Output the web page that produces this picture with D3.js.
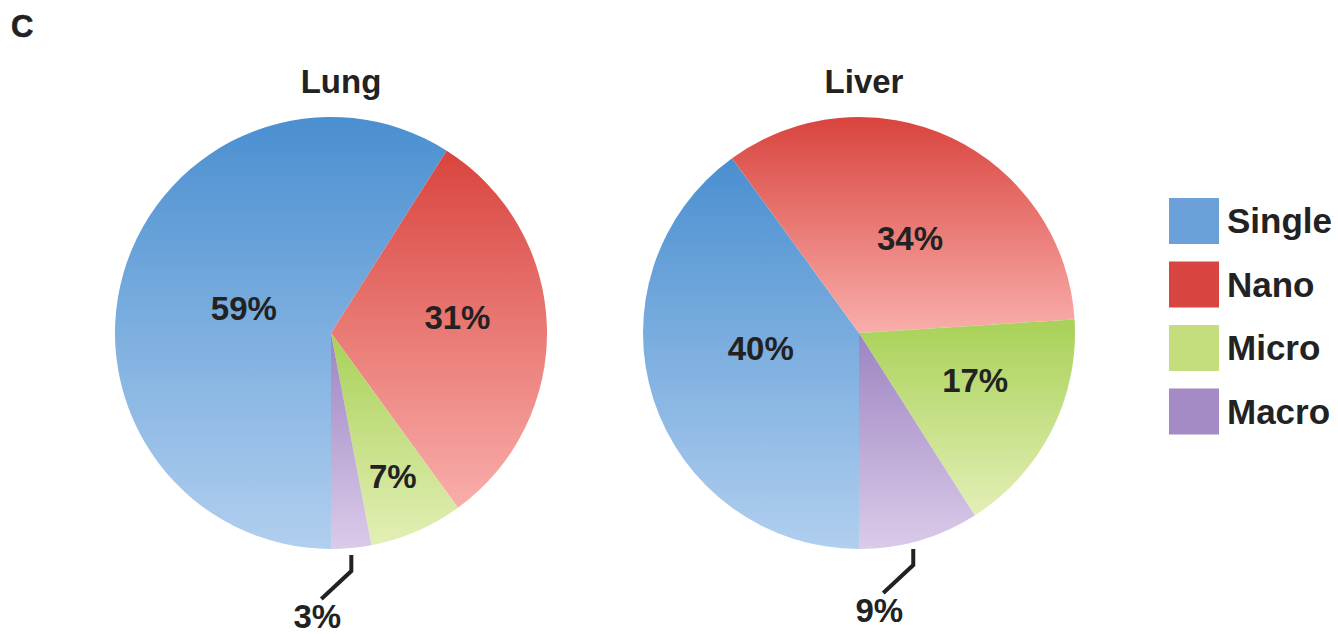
<!DOCTYPE html>
<html>
<head>
<meta charset="utf-8">
<script src="https://cdn.jsdelivr.net/npm/d3@7"></script>
<style>
  html, body { margin: 0; padding: 0; background: #fff; }
  svg { display: block; }
  text { font-family: "Liberation Sans", Arial, sans-serif; font-weight: bold; fill: #222; }
</style>
</head>
<body>
<svg id="chart" width="1338" height="634"></svg>
<script>
// ---- data ----
const categories = ["Single", "Nano", "Micro", "Macro"];
const pieTitles = ["Lung", "Liver"];
const lungValues = [59, 31, 7, 3];
const liverValues = [40, 34, 17, 9];
const panelLabel = "C";

// ---- style ----
const gradTop = ["#4a8fd0", "#d9443e", "#a8d157", "#9d84c1"];
const gradBottom = ["#b1cfef", "#f9aeab", "#e3efb6", "#dacbe9"];
const legendColors = ["#6ca0d9", "#d8443f", "#c4de7d", "#a58bc5"];

const svg = d3.select("#chart");
const defs = svg.append("defs");
categories.forEach((c, i) => {
  const g = defs.append("linearGradient").attr("id", "grad" + i)
    .attr("x1", 0).attr("y1", 0).attr("x2", 0).attr("y2", 1);
  g.append("stop").attr("offset", "0%").attr("stop-color", gradTop[i]);
  g.append("stop").attr("offset", "100%").attr("stop-color", gradBottom[i]);
});

svg.append("text").attr("x", 11).attr("y", 37).style("font-size", "31px")
  .style("stroke", "#222").style("stroke-width", 0.6).text(panelLabel);

// label placement style: radius fraction and angular shift (degrees) for inside labels
const pies = [
  { title: pieTitles[0], values: lungValues, cx: 331, cy: 333, r: 216, titleX: 341,
    labelR: [0.42, 0.59, 0.72], labelShift: [0, -5.4, 0], leaderDx: 0 },
  { title: pieTitles[1], values: liverValues, cx: 859, cy: 333, r: 216, titleX: 864,
    labelR: [0.46, 0.50, 0.58], labelShift: [9.3, 3, -5], leaderDx: -6 }
];

const pieGen = d3.pie().sort(null).startAngle(Math.PI).endAngle(3 * Math.PI);

pies.forEach(p => {
  const g = svg.append("g").attr("transform", `translate(${p.cx},${p.cy})`);
  const arcs = pieGen(p.values);
  const arc = d3.arc().innerRadius(0).outerRadius(p.r);
  g.selectAll("path.slice").data(arcs).enter().append("path")
    .attr("class", "slice")
    .attr("d", arc)
    .attr("fill", (d, i) => `url(#grad${i})`);

  svg.append("text").attr("x", p.titleX).attr("y", 93)
    .attr("text-anchor", "middle").style("font-size", "33px").text(p.title);

  // inside labels (first three slices)
  arcs.slice(0, 3).forEach((d, i) => {
    const lr = p.r * p.labelR[i];
    const a = (d.startAngle + d.endAngle) / 2 + p.labelShift[i] * Math.PI / 180;
    const x = lr * Math.sin(a), y = -lr * Math.cos(a);
    g.append("text").attr("x", x).attr("y", y + 12)
      .attr("text-anchor", "middle").style("font-size", "33px")
      .text(d.value + "%");
  });

  // leader label for the last slice
  const d = arcs[3];
  const a = (d.startAngle + d.endAngle) / 2;
  const sx = p.r * Math.sin(a) + p.leaderDx;
  const edgeY = Math.sqrt(p.r * p.r - sx * sx);
  const y0 = edgeY + 7, y1 = y0 + 16;
  const ex = sx - 30, ey = y1 + 28;
  g.append("path")
    .attr("d", `M${sx},${y0} L${sx},${y1} L${ex},${ey}`)
    .attr("fill", "none").attr("stroke", "#222").attr("stroke-width", 4);
  g.append("text").attr("x", ex - 4).attr("y", ey + 29)
    .attr("text-anchor", "middle").style("font-size", "33px")
    .text(d.value + "%");
});

// legend
const lg = svg.append("g");
categories.forEach((c, i) => {
  const y = 198 + i * 63.5;
  lg.append("rect").attr("x", 1169).attr("y", y).attr("width", 50).attr("height", 46)
    .attr("fill", legendColors[i]);
  lg.append("text").attr("x", 1227).attr("y", y + 35).style("font-size", "35px").text(c);
});
</script>
</body>
</html>
